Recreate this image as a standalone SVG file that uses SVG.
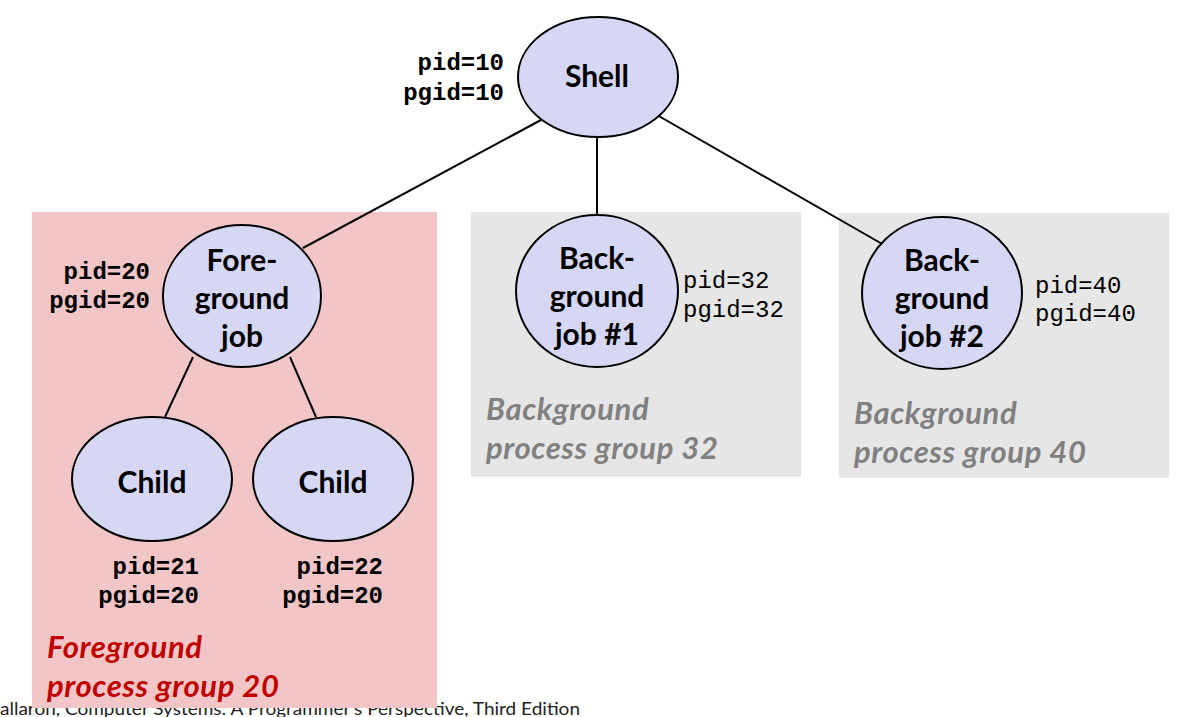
<svg xmlns="http://www.w3.org/2000/svg" width="1177" height="717" viewBox="0 0 1177 717">
<style>
.node{fill:#d6d6f5;stroke:#000;stroke-width:2}
.lbl{font-family:Lato,"Open Sans","Liberation Sans",sans-serif;font-weight:bold;font-size:30px;fill:#000;text-anchor:middle}
.mono{font-family:"Liberation Mono","Courier New",monospace;font-size:24px;fill:#000}
.mb{font-weight:bold}
.grp{font-family:Lato,"Open Sans","Liberation Sans",sans-serif;font-weight:bold;font-style:italic;font-size:31px;letter-spacing:0.6px}
.conn line{stroke:#000;stroke-width:2}
</style>
<rect width="1177" height="717" fill="#fff"/>
<text x="0" y="715" font-family="Lato,'Open Sans','Liberation Sans',sans-serif" font-size="18" fill="#222" textLength="580" lengthAdjust="spacingAndGlyphs">allaron, Computer Systems: A Programmer’s Perspective, Third Edition</text>
<g id="fg-group">
<rect x="32" y="212" width="405" height="496" fill="#f2c6c6"/>
<text class="grp" fill="#c00000"><tspan x="47" y="658">Foreground</tspan><tspan x="47" y="697">process group 20</tspan></text>
</g>
<g id="bg-group-32">
<rect x="471" y="212" width="330" height="265" fill="#e6e6e6"/>
<text class="grp" fill="#808080"><tspan x="486" y="420">Background</tspan><tspan x="486" y="459">process group 32</tspan></text>
</g>
<g id="bg-group-40">
<rect x="839" y="213" width="330" height="265" fill="#e6e6e6"/>
<text class="grp" fill="#808080"><tspan x="854" y="424">Background</tspan><tspan x="854" y="463">process group 40</tspan></text>
</g>
<g class="conn" id="connectors">
<line x1="541" y1="120" x2="303" y2="248"/>
<line x1="597" y1="137" x2="597" y2="226"/>
<line x1="657" y1="115" x2="884" y2="245"/>
<line x1="193" y1="357" x2="165" y2="417"/>
<line x1="290" y1="357" x2="316" y2="417"/>
</g>
<g id="shell">
<ellipse class="node" cx="598" cy="77" rx="80" ry="60"/>
<text class="lbl" x="597" y="87">Shell</text>
<text class="mono mb" text-anchor="end" x="504" y="70">pid=10</text>
<text class="mono mb" text-anchor="end" x="504" y="100">pgid=10</text>
</g>
<g id="fg-job">
<ellipse class="node" cx="242" cy="296" rx="79" ry="71"/>
<text class="lbl"><tspan x="242" y="271">Fore-</tspan><tspan x="242" y="309">ground</tspan><tspan x="242" y="347">job</tspan></text>
<text class="mono mb" text-anchor="end" x="150" y="279">pid=20</text>
<text class="mono mb" text-anchor="end" x="150" y="308">pgid=20</text>
</g>
<g id="child1">
<ellipse class="node" cx="152" cy="479" rx="80" ry="62"/>
<text class="lbl" x="152" y="493">Child</text>
<text class="mono mb" text-anchor="end" x="199" y="574">pid=21</text>
<text class="mono mb" text-anchor="end" x="199" y="603">pgid=20</text>
</g>
<g id="child2">
<ellipse class="node" cx="333" cy="479" rx="80" ry="62"/>
<text class="lbl" x="333" y="493">Child</text>
<text class="mono mb" text-anchor="end" x="383" y="574">pid=22</text>
<text class="mono mb" text-anchor="end" x="383" y="603">pgid=20</text>
</g>
<g id="bg-job-1">
<ellipse class="node" cx="597" cy="291" rx="81" ry="76"/>
<text class="lbl"><tspan x="597" y="269">Back-</tspan><tspan x="597" y="307">ground</tspan><tspan x="597" y="345">job #1</tspan></text>
<text class="mono" x="683" y="288">pid=32</text>
<text class="mono" x="683" y="317">pgid=32</text>
</g>
<g id="bg-job-2">
<ellipse class="node" cx="942" cy="293" rx="80" ry="76"/>
<text class="lbl"><tspan x="942" y="271">Back-</tspan><tspan x="942" y="309">ground</tspan><tspan x="942" y="347">job #2</tspan></text>
<text class="mono" x="1035" y="293">pid=40</text>
<text class="mono" x="1035" y="321">pgid=40</text>
</g>
</svg>
